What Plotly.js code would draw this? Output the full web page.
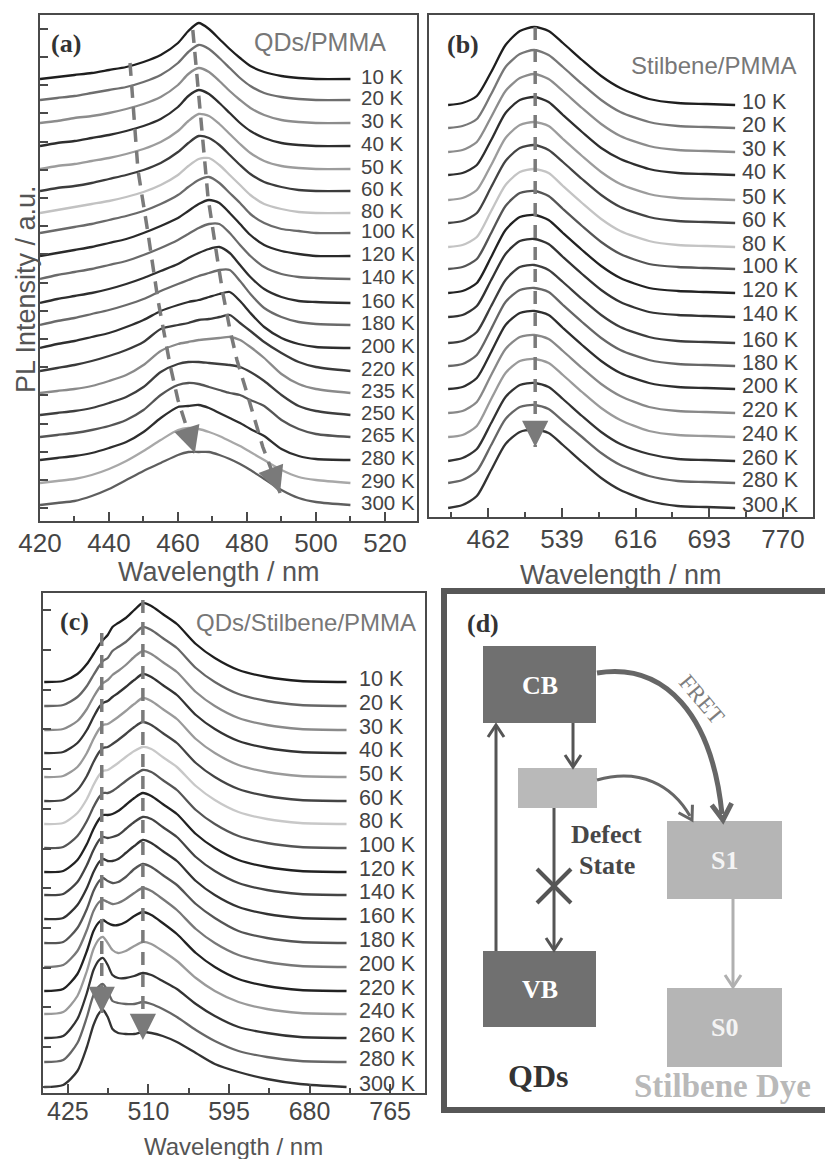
<!DOCTYPE html>
<html><head><meta charset="utf-8">
<script src="https://cdn.plot.ly/plotly-3.0.1.min.js"></script>
<style>html,body{margin:0;padding:0;background:#fff}#chart{width:825px;height:1159px}</style>
</head><body><div id="chart"></div>
<script>
// ---------------- DATA ----------------
// Panel (a) QDs/PMMA
const wavelengthA = [420,425,430,435,440,445,450,455,460,463,466,469,472,475,478,481,485,490,495,500,510];
const tempsA = ['10 K','20 K','30 K','40 K','50 K','60 K','80 K','100 K','120 K','140 K','160 K','180 K','200 K','220 K','235 K','250 K','265 K','280 K','290 K','300 K'];
const offsetA = [442,421,398,375,352,330,308,288,265,242,218,196,173,150,128,106,84,61,38,16];
const intensityA = [
 [0,2,4,6,9,12,17,24,36,48,56,50,40,30,21,13,7,3,1,0,0],
 [0,2,4,7,10,13,18,25,37,48,55,51,42,32,22,14,7,3,1,0,0],
 [0,2,5,7,10,14,19,26,38,49,55,51,42,32,23,15,8,3,1,0,0],
 [0,3,5,8,11,15,20,27,39,50,56,52,43,33,23,15,8,3,1,0,0],
 [0,3,5,8,11,15,20,27,38,48,55,53,45,35,25,16,8,3,1,0,0],
 [0,3,5,8,12,16,21,28,39,48,55,53,46,36,26,17,9,4,1,0,0],
 [0,3,6,9,12,16,21,28,38,47,54,55,48,38,28,18,9,4,1,0,0],
 [0,3,6,9,13,17,22,29,38,46,53,56,50,40,30,19,10,4,2,0,0],
 [0,3,6,9,13,17,23,30,38,45,52,56,53,43,32,21,11,5,2,0,0],
 [0,4,7,10,14,18,24,31,39,45,51,55,55,46,34,23,12,5,2,1,0],
 [0,4,7,10,14,19,25,32,39,45,50,54,56,50,38,26,14,6,2,1,0],
 [0,4,7,11,15,20,26,34,41,45,49,52,55,55,44,31,17,8,3,1,0],
 [0,4,7,11,15,21,28,37,43,46,48,51,54,56,47,35,21,10,4,1,0],
 [0,3,6,10,15,21,29,42,46,48,51,52,54,56,48,40,29,18,9,4,0],
 [0,2,4,7,12,18,28,42,49,51,53,54,55,56,53,46,35,19,9,4,0],
 [0,2,4,7,12,18,28,43,51,53,53,52,51,50,48,43,34,20,9,4,0],
 [0,2,4,7,11,17,27,42,52,54,53,50,47,44,42,37,31,17,8,3,0],
 [0,2,4,7,12,18,28,42,53,54,55,52,47,42,37,31,24,11,4,1,0],
 [0,2,4,8,14,22,32,43,53,55,54,51,47,42,37,31,23,13,6,3,0],
 [0,2,4,9,16,25,34,42,50,53,53,53,50,46,41,35,26,15,7,3,0]
];
const guideA1X = [446.1,448.4,451.3,454.2,457.7,460.0,464.9];
const guideA1Y = [458,351,288,221,156,121,68];
const guideA2X = [464.3,467.0,468.7,471.6,473.0,475.1,477.1,480.0,484.6,489.6];
const guideA2Y = [491,388,324,258,228,191,161,128,74,28];

// Panel (b) Stilbene/PMMA
const wavelengthB = [420,435,450,465,480,495,510,525,540,560,580,600,630,660,690,720];
const tempsB = ['10 K','20 K','30 K','40 K','50 K','60 K','80 K','100 K','120 K','140 K','160 K','180 K','200 K','220 K','240 K','260 K','280 K','300 K'];
const offsetB = [412,389,365,342,317,294,270,248,224,200,174,151,128,104,80,56,34,9];
const intensityB = [
 [0,2,9,33,60,74,78,74,62,45,29,17,6,2,1,0],
 [0,2,9,34,61,74,78,73,61,44,28,16,6,2,1,0],
 [0,2,10,35,61,74,78,73,61,44,28,16,6,2,1,0],
 [0,2,10,35,62,75,78,73,60,43,27,16,6,2,1,0],
 [0,2,10,35,62,75,78,74,61,44,28,16,6,2,1,0],
 [0,2,10,36,62,75,78,73,61,44,28,16,6,2,1,0],
 [0,2,10,36,62,75,78,74,61,44,28,16,6,2,1,0],
 [0,2,10,36,63,76,78,73,60,43,27,15,5,2,1,0],
 [0,2,10,36,63,76,78,73,60,43,27,15,5,2,1,0],
 [0,2,11,37,63,76,78,73,60,43,27,15,5,2,1,0],
 [0,2,11,37,63,76,78,73,61,44,28,16,6,2,1,0],
 [0,2,11,37,64,76,78,74,61,44,28,16,6,2,1,0],
 [0,2,11,37,64,76,78,74,61,44,28,16,6,2,1,0],
 [0,2,11,38,64,76,78,74,62,45,29,17,6,2,1,0],
 [0,2,11,38,64,76,78,74,62,45,29,17,6,2,1,0],
 [0,3,12,38,64,76,78,74,62,45,29,17,7,2,1,0],
 [0,3,12,38,64,76,78,74,62,46,30,18,7,2,1,0],
 [0,3,12,38,64,76,78,75,63,46,30,18,7,2,1,0]
];
const guideBX = [511,511];
const guideBY = [490,70];

// Panel (c) QDs/Stilbene/PMMA
const wavelengthC = [400,420,435,445,452,458,462,467,472,478,486,495,504,513,525,540,560,580,605,635,670,719];
const tempsC = ['10 K','20 K','30 K','40 K','50 K','60 K','80 K','100 K','120 K','140 K','160 K','180 K','200 K','220 K','240 K','260 K','280 K','300 K'];
const offsetC = [411,387,363,340,316,292,269,245,221,198,174,150,126,102,79,55,31,6];
const intensityC = [
 [0,1,8,18,28,37,42,47,55,59,64,72,79,76,68,58,38,24,12,5,1,0],
 [0,1,9,20,31,40,45,48,55,59,64,72,79,76,68,58,38,24,12,5,1,0],
 [0,1,9,21,33,42,47,50,55,59,65,73,79,76,68,58,38,24,12,5,1,0],
 [0,1,10,23,36,46,50,52,56,60,66,73,79,76,68,58,38,24,12,5,1,0],
 [0,1,10,24,38,48,52,53,56,60,66,73,79,76,68,58,38,24,12,5,1,0],
 [0,1,11,25,39,49,53,54,57,61,67,74,79,76,68,58,38,24,12,5,1,0],
 [0,1,11,25,39,49,53,54,57,61,67,73,77,75,67,57,38,24,12,5,1,0],
 [0,1,12,27,41,51,55,55,57,61,67,73,78,76,68,58,38,24,12,5,1,0],
 [0,1,12,28,43,53,57,57,58,61,67,74,79,76,68,58,38,24,12,5,1,0],
 [0,1,13,30,45,55,58,57,58,60,66,73,78,76,68,58,38,24,12,5,1,0],
 [0,1,14,31,47,57,60,58,58,60,66,73,79,76,68,58,38,24,12,5,1,0],
 [0,1,15,34,52,62,65,62,60,61,66,74,79,76,68,58,39,25,12,5,1,0],
 [0,2,16,37,56,65,67,65,63,64,68,74,79,76,68,57,38,24,12,5,1,0],
 [0,2,17,40,60,69,71,68,66,66,69,75,79,76,68,57,38,24,12,5,1,0],
 [0,2,18,43,65,75,77,71,64,61,63,68,72,70,63,53,36,23,12,5,1,0],
 [0,2,19,45,68,78,80,73,63,60,60,62,65,63,57,49,34,22,11,5,1,0],
 [0,2,19,45,67,76,78,71,61,59,58,58,60,58,53,45,32,21,11,5,1,0],
 [0,2,16,40,62,74,77,70,58,54,53,53,55,54,51,45,34,23,15,8,3,0]
];
const guideC1X = [460.7,460.7];
const guideC1Y = [460,80];
const guideC2X = [504.1,504.1];
const guideC2Y = [493,53];

// ---------------- STYLES ----------------
const colorsA = ['#1e1e1e','#6e6e6e','#8c8c8c','#2e2e2e','#9c9c9c','#3c3c3c','#c2c2c2','#6a6a6a','#2a2a2a','#6a6a6a','#2e2e2e','#6a6a6a','#2e2e2e','#3a3a3a','#8a8a8a','#3e3e3e','#555555','#2e2e2e','#a8a8a8','#5e5e5e'];
const colorsB = ['#1e1e1e','#777777','#8c8c8c','#2e2e2e','#9c9c9c','#444444','#c4c4c4','#555555','#222222','#333333','#3e3e3e','#666666','#2e2e2e','#888888','#9a9a9a','#333333','#666666','#333333'];
const colorsC = ['#1e1e1e','#666666','#8a8a8a','#333333','#9a9a9a','#444444','#c8c8c8','#555555','#222222','#444444','#333333','#555555','#777777','#222222','#9a9a9a','#333333','#666666','#333333'];

const SANS = 'Liberation Sans, Arial, sans-serif';
const SERIF = 'Liberation Serif, Times New Roman, serif';
const W = 825, H = 1159;
const px = x => x / W, py = y => 1 - y / H;
const AX = '#4a4a4a';
const GUIDE = '#7a7a7a';

const traces = [];
const annotations = [];
const shapes = [];

function addPanel(wl, offs, ints, colors, temps, xa, ya, labelX, labelSize) {
  ints.forEach((prof, i) => {
    traces.push({
      x: wl, y: prof.map(v => v + offs[i]), xaxis: xa, yaxis: ya,
      mode: 'lines', hoverinfo: 'skip',
      line: {color: colors[i], width: 2.3, shape: 'spline', smoothing: 0.7}
    });
    annotations.push({
      xref: xa, yref: ya, x: labelX, y: offs[i], yshift: 3,
      text: temps[i], showarrow: false, xanchor: 'left', yanchor: 'middle',
      font: {family: SANS, size: labelSize, color: '#444'}
    });
  });
}
addPanel(wavelengthA, offsetA, intensityA, colorsA, tempsA, 'x', 'y', 512.5, 20.5);
addPanel(wavelengthB, offsetB, intensityB, colorsB, tempsB, 'x2', 'y2', 725, 21.5);
addPanel(wavelengthC, offsetC, intensityC, colorsC, tempsC, 'x3', 'y3', 730, 21.5);

function addGuide(gx, gy, xa, ya) {
  traces.push({x: gx, y: gy, xaxis: xa, yaxis: ya, mode: 'lines', hoverinfo: 'skip',
    line: {color: GUIDE, width: 3.5, dash: '13px,9px'}});
  const n = gx.length;
  const f = n > 2 ? 0.35 : 0.03;
  annotations.push({xref: xa, yref: ya, axref: xa, ayref: ya,
    x: gx[n-1], y: gy[n-1],
    ax: gx[n-1] + (gx[n-2]-gx[n-1]) * f,
    ay: gy[n-1] + (gy[n-2]-gy[n-1]) * f,
    text: '', showarrow: true, arrowhead: 2, arrowsize: 1.5, arrowwidth: 3.5, arrowcolor: GUIDE, standoff: 0});
}
addGuide(guideA1X, guideA1Y, 'x', 'y');
addGuide(guideA2X, guideA2Y, 'x', 'y');
addGuide(guideBX, guideBY, 'x2', 'y2');
addGuide(guideC1X, guideC1Y, 'x3', 'y3');
addGuide(guideC2X, guideC2Y, 'x3', 'y3');

function xAxis(dom, range, tickvals, minor0, minorD, anchor, fs, standoff) {
  return {
    domain: dom, range: range, anchor: anchor,
    tickmode: 'array', tickvals: tickvals, ticktext: tickvals.map(String),
    ticks: 'inside', ticklen: 9, tickwidth: 2, tickcolor: AX,
    minor: {tickmode: 'linear', tick0: minor0, dtick: minorD, ticks: 'inside', ticklen: 5, tickwidth: 2, tickcolor: AX},
    showline: true, mirror: true, linecolor: AX, linewidth: 2.2,
    showgrid: false, zeroline: false, ticklabelstandoff: standoff,
    tickfont: {family: SANS, size: fs, color: '#454545'},
    fixedrange: true
  };
}
function yAxis(dom, range, anchor, tick0, dtick) {
  const a = {
    domain: dom, range: range, anchor: anchor,
    showticklabels: false, showline: true, mirror: true, linecolor: AX, linewidth: 2.2,
    showgrid: false, zeroline: false, fixedrange: true, ticks: ''
  };
  if (dtick) Object.assign(a, {ticks: 'inside', tickmode: 'linear', tick0: tick0, dtick: dtick, ticklen: 8, tickwidth: 2, tickcolor: AX});
  return a;
}

// Panel letters, titles and axis titles
function txt(x, y, text, font, opts) {
  annotations.push(Object.assign({xref: 'paper', yref: 'paper', x: px(x), y: py(y), text: text,
    showarrow: false, xanchor: 'center', yanchor: 'middle', font: font}, opts || {}));
}
const letterFont = {family: SERIF, size: 26, color: '#333', weight: 'bold'};
txt(66, 43, '<b>(a)</b>', letterFont);
txt(463, 45, '<b>(b)</b>', letterFont);
txt(74, 621, '<b>(c)</b>', letterFont);
txt(388, 42, 'QDs/PMMA', {family: SANS, size: 25, color: '#777'}, {xanchor: 'right'});
txt(798, 65, 'Stilbene/PMMA', {family: SANS, size: 24, color: '#777'}, {xanchor: 'right'});
txt(418, 622, 'QDs/Stilbene/PMMA', {family: SANS, size: 24, color: '#777'}, {xanchor: 'right'});
const axTitleFont = {family: SANS, size: 27, color: '#555'};
txt(26, 289, 'PL Intensity / a.u.', axTitleFont, {textangle: -90});
txt(219, 572, 'Wavelength / nm', axTitleFont);
txt(621, 575, 'Wavelength / nm', axTitleFont);
txt(233, 1146, 'Wavelength / nm', {family: SANS, size: 24, color: '#555'});

// ---------------- Panel (d) schematic ----------------
function rectPx(x0, y0, x1, y1, fill, line) {
  shapes.push({type: 'rect', xref: 'paper', yref: 'paper', x0: px(x0), x1: px(x1), y0: py(y1), y1: py(y0),
    fillcolor: fill, line: line || {width: 0}, layer: 'above'});
}
function pathPx(cmds, color, width) {
  const d = cmds.map(c => {
    const op = c[0]; const parts = [];
    for (let k = 1; k < c.length; k += 2) parts.push(px(c[k]).toFixed(5) + ',' + py(c[k+1]).toFixed(5));
    return op + ' ' + parts.join(' ');
  }).join(' ');
  shapes.push({type: 'path', xref: 'paper', yref: 'paper', path: d, line: {color: color, width: width}, layer: 'above'});
}
function headPx(tx, ty, dx, dy, len, hw, color, width) {
  const L = Math.hypot(dx, dy); const ux = dx / L, uy = dy / L;
  const bx = tx - ux * len, by = ty - uy * len;
  const nx = -uy, ny = ux;
  pathPx([['M', bx + nx * hw, by + ny * hw], ['L', tx, ty], ['L', bx - nx * hw, by - ny * hw]], color, width);
}
const DARK = '#707070', LIGHT = '#b5b5b5', LINE = '#555';
rectPx(444, 591, 845, 1110, 'rgba(0,0,0,0)', {color: '#575757', width: 6});
rectPx(483, 646, 596, 723, DARK);
rectPx(518, 768, 597, 808, '#b9b9b9');
rectPx(483, 951, 596, 1027, DARK);
rectPx(667, 821, 782, 899, LIGHT);
rectPx(667, 988, 782, 1067, LIGHT);
// VB -> CB excitation
pathPx([['M', 496, 951], ['L', 496, 727]], LINE, 3);
headPx(496, 725, 0, -1, 12, 8, LINE, 3);
// CB -> defect
pathPx([['M', 573, 723], ['L', 573, 765]], LINE, 3);
headPx(573, 767, 0, 1, 12, 8, LINE, 3);
// defect -> VB (blocked)
pathPx([['M', 554, 808], ['L', 554, 948]], LINE, 3);
headPx(554, 950, 0, 1, 12, 8, LINE, 3);
pathPx([['M', 537, 869], ['L', 571, 903]], LINE, 4);
pathPx([['M', 537, 903], ['L', 571, 869]], LINE, 4);
// S1 -> S0
pathPx([['M', 733, 899], ['L', 733, 985]], '#b0b0b0', 3);
headPx(733, 987, 0, 1, 12, 8, '#b0b0b0', 3);
// defect -> S1
pathPx([['M', 597, 780], ['C', 640, 768, 672, 785, 690, 816]], '#666', 3);
headPx(692, 820, 19, 33, 13, 8, '#666', 3);
// CB -> S1 (FRET)
pathPx([['M', 597, 673], ['C', 665, 662, 712, 715, 722, 814]], '#666', 5);
headPx(723, 820, 8, 95, 16, 10, '#666', 5);

const boxFont = {family: SERIF, size: 26, color: '#fff', weight: 'bold'};
txt(483, 623, '<b>(d)</b>', letterFont);
txt(540, 685, '<b>CB</b>', boxFont);
txt(540, 989, '<b>VB</b>', boxFont);
txt(724, 860, '<b>S1</b>', Object.assign({}, boxFont, {color: '#f4f4f4'}));
txt(724, 1027, '<b>S0</b>', Object.assign({}, boxFont, {color: '#f4f4f4'}));
txt(606, 834, '<b>Defect</b>', {family: SERIF, size: 26, color: '#474747'});
txt(607, 865, '<b>State</b>', {family: SERIF, size: 26, color: '#474747'});
txt(702, 699, 'FRET', {family: SERIF, size: 23, color: '#7d7d7d'}, {textangle: 50});
txt(538, 1076, '<b>QDs</b>', {family: SERIF, size: 32, color: '#333'});
txt(722, 1086, '<b>Stilbene Dye</b>', {family: SERIF, size: 33, color: '#b9b9b9'});

const layout = {
  width: W, height: H, margin: {l: 0, r: 0, t: 0, b: 0},
  paper_bgcolor: '#fff', plot_bgcolor: '#fff', showlegend: false,
  xaxis: xAxis([px(40), px(417)], [420, 529.3], [420,440,460,480,500,520], 420, 10, 'y', 26, -2),
  yaxis: yAxis([py(521), py(15)], [0, 506], 'x', 41, 28.2),
  xaxis2: xAxis([px(429), px(813)], [400, 801.4], [462,539,616,693,770], 423.5, 38.5, 'y2', 26, -2),
  yaxis2: yAxis([py(517), py(15)], [0, 502], 'x2'),
  xaxis3: xAxis([px(43), px(425)], [398.7, 801.8], [425,510,595,680,765], 425, 42.5, 'y3', 25, -5),
  yaxis3: yAxis([py(1093), py(593)], [0, 500], 'x3', 46, 39.7),
  annotations: annotations, shapes: shapes
};
Plotly.newPlot('chart', traces, layout, {staticPlot: true});
</script>
</body></html>
